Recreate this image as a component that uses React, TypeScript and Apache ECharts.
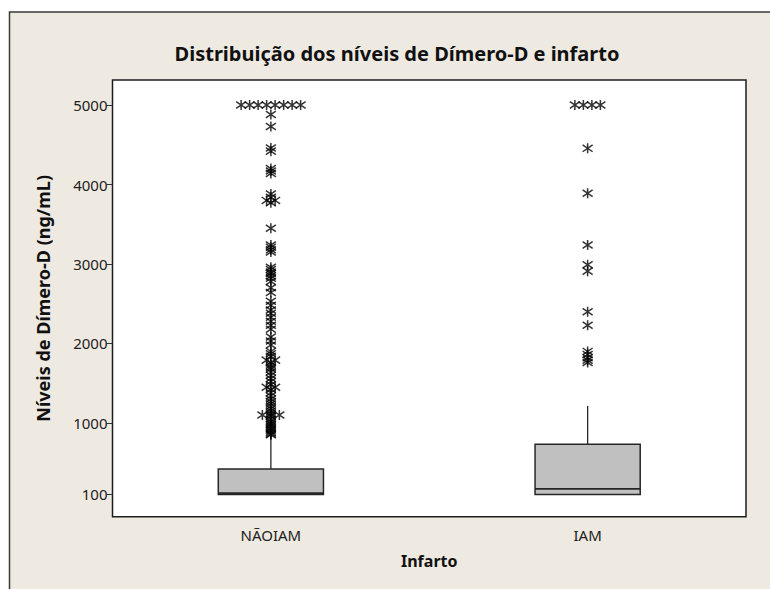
import React, { useEffect, useRef } from "react";
import * as echarts from "echarts";

// Groups on the x axis
const categories = ["NÃOIAM", "IAM"];

// Box summaries: [lower whisker, Q1, median, Q3, upper whisker] (ng/mL)
const naoBox = [100, 100, 115, 421, 828];
const iamBox = [100, 100, 170, 732, 1214];

// Outliers beyond the whiskers (values are capped at 5000)
const naoOutliers = [
  5000, 5000, 5000, 5000, 5000, 5000, 5000, 5000,
  4880, 4730, 4460, 4420, 4200, 4170, 4140, 3880, 3840, 3800, 3800, 3770,
  3450, 3240, 3210, 3180, 3150, 2960, 2930, 2900, 2880, 2850, 2820, 2780,
  2700, 2640, 2530, 2480, 2420, 2380, 2330, 2280, 2230, 2180, 2080, 2030,
  1980, 1900, 1870, 1840, 1790, 1790, 1760, 1730, 1700, 1680, 1640, 1600,
  1560, 1520, 1480, 1450, 1450, 1420, 1380, 1340, 1300, 1270, 1240, 1210,
  1180, 1150, 1120, 1100, 1100, 1100, 1080, 1050, 1020, 1000, 980, 960,
  940, 920, 900, 880, 860, 850,
];
const iamOutliers = [
  5000, 5000, 5000, 5000, 4455, 3890, 3240, 2990, 2910, 2400, 2230,
  1900, 1860, 1820, 1790, 1760,
];

// Y-axis tick labels
const yTicks = [100, 1000, 2000, 3000, 4000, 5000];

const TIE_STEP = 8.5; // horizontal spacing (px) for tied outliers

const STAR = "path://M5,0L5,10M0.8,1.6L9.2,8.4M0.8,8.4L9.2,1.6";

function outlierPoints(catIndex: number, values: number[]) {
  const counts: Record<number, number> = {};
  values.forEach((v) => (counts[v] = (counts[v] || 0) + 1));
  const seen: Record<number, number> = {};
  return values.map((v) => {
    const n = counts[v];
    const i = seen[v] || 0;
    seen[v] = i + 1;
    const dx = (i - (n - 1) / 2) * TIE_STEP;
    return { value: [catIndex, v], symbolOffset: [dx, 0] };
  });
}

function renderBox(params: any, api: any) {
  const x = api.value(0);
  const low = api.coord([x, api.value(1)]);
  const q1 = api.coord([x, api.value(2)]);
  const med = api.coord([x, api.value(3)]);
  const q3 = api.coord([x, api.value(4)]);
  const high = api.coord([x, api.value(5)]);
  const half = api.size([1, 0])[0] * 0.166;
  const stroke = "#262626";
  return {
    type: "group",
    children: [
      {
        type: "line",
        shape: { x1: low[0], y1: low[1], x2: q1[0], y2: q1[1] },
        style: { stroke, lineWidth: 1.3 },
      },
      {
        type: "line",
        shape: { x1: q3[0], y1: q3[1], x2: high[0], y2: high[1] },
        style: { stroke, lineWidth: 1.3 },
      },
      {
        type: "rect",
        shape: { x: q3[0] - half, y: q3[1], width: half * 2, height: q1[1] - q3[1] },
        style: { fill: "#C0C0C0", stroke, lineWidth: 1.5 },
      },
      {
        type: "line",
        shape: { x1: med[0] - half, y1: med[1], x2: med[0] + half, y2: med[1] },
        style: { stroke, lineWidth: 1.8 },
      },
    ],
  };
}

export default function App() {
  const ref = useRef<HTMLDivElement>(null);

  useEffect(() => {
    if (!ref.current) return;
    const chart = echarts.init(ref.current, null, { renderer: "svg" });
    const font = "Noto Sans";
    chart.setOption({
      animation: false,
      backgroundColor: "#ffffff",
      graphic: [
        {
          type: "rect",
          z: -10,
          shape: { x: 9.5, y: 12, width: 800, height: 620 },
          style: { fill: "#EEEAE1", stroke: "#3a3a3a", lineWidth: 1.5 },
        },
        {
          type: "text",
          x: 397,
          y: 53,
          style: {
            text: "Distribuição dos níveis de Dímero-D e infarto",
            font: `bold 20px "${font}"`,
            fill: "#111",
            textAlign: "center",
            textVerticalAlign: "middle",
          },
        },
      ],
      grid: {
        left: 112.5,
        top: 80,
        right: 24,
        bottom: 72.3,
        show: true,
        backgroundColor: "#ffffff",
        borderColor: "#1c1c1c",
        borderWidth: 1.5,
      },
      xAxis: {
        type: "category",
        data: categories,
        boundaryGap: true,
        name: "Infarto",
        nameLocation: "middle",
        nameGap: 36,
        nameTextStyle: { fontFamily: font, fontWeight: "bold", fontSize: 16, color: "#111" },
        axisLine: { show: false },
        axisTick: { alignWithLabel: true, length: 6, lineStyle: { color: "#333" } },
        axisLabel: { fontFamily: font, fontSize: 15, color: "#222", margin: 11 },
        splitLine: { show: false },
      },
      yAxis: {
        type: "value",
        min: -180,
        max: 5315,
        name: "Níveis de Dímero-D (ng/mL)",
        nameLocation: "middle",
        nameGap: 61,
        nameTextStyle: { fontFamily: font, fontWeight: "bold", fontSize: 18, color: "#111" },
        axisLine: { show: false },
        axisTick: { show: true, length: 6, customValues: yTicks, lineStyle: { color: "#333" } },
        axisLabel: {
          fontFamily: font,
          fontSize: 15,
          color: "#222",
          margin: 5,
          customValues: yTicks,
          formatter: (v: number) => String(v),
        },
        splitLine: { show: false },
      },
      series: [
        {
          type: "custom",
          renderItem: renderBox,
          encode: { x: 0, y: [1, 2, 3, 4, 5] },
          data: [
            [0, ...naoBox],
            [1, ...iamBox],
          ],
          z: 2,
        },
        {
          type: "scatter",
          symbol: STAR,
          symbolSize: [10, 10],
          itemStyle: { color: "transparent", borderColor: "#000", borderWidth: 1.5 },
          data: [...outlierPoints(0, naoOutliers), ...outlierPoints(1, iamOutliers)],
          z: 3,
        },
      ],
    });
    return () => chart.dispose();
  }, []);

  return (
    <div
      ref={ref}
      style={{ position: "absolute", left: 0, top: 0, width: 770, height: 589 }}
    />
  );
}
